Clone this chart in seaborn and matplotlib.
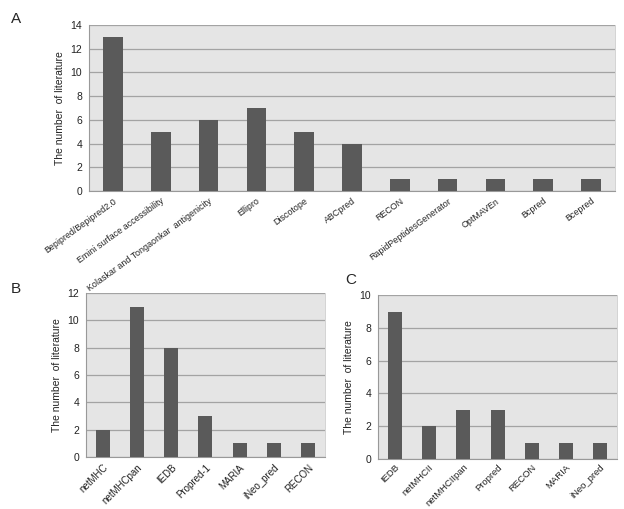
import matplotlib
matplotlib.use("Agg")
import matplotlib.pyplot as plt
import seaborn as sns
import pandas as pd

# panel A - B cell epitope tools
a_tools = ['Bepipred/Bepipred2.0', 'Emini surface accessibility', 'Kolaskar and Tongaonkar  antigenicity',
           'Ellipro', 'Discotope', 'ABCpred', 'RECON', 'RapidPeptidesGenerator', 'OptMAVEn', 'Bcpred', 'Bcepred']
a_counts = [13, 5, 6, 7, 5, 4, 1, 1, 1, 1, 1]

# panel B - MHC I tools
b_tools = ['netMHC', 'netMHCpan', 'IEDB', 'Propred-1', 'MARIA', 'iNeo_pred', 'RECON']
b_counts = [2, 11, 8, 3, 1, 1, 1]

# panel C - MHC II tools
c_tools = ['IEDB', 'netMHCII', 'netMHCIIpan', 'Propred', 'RECON', 'MARIA', 'iNeo_pred']
c_counts = [9, 2, 3, 3, 1, 1, 1]

sns.set_style('white')
plt.rcParams['font.family'] = ['Liberation Sans', 'DejaVu Sans']

bar_col = '#5a5a5a'
bg_col = '#e5e5e5'
grid_col = '#a3a3a3'


def draw_panel(ax, tools, counts, ymax, ystep, rot=45, lab_size=7, lab_pad=4):
    df = pd.DataFrame({'tool': tools, 'n': counts})
    ax.set_facecolor(bg_col)
    sns.barplot(data=df, x='tool', y='n', color=bar_col, width=0.41, saturation=1,
                linewidth=0, edgecolor='none', ax=ax, zorder=3)
    ax.set_xlim(-0.5, len(tools) - 0.5)
    ax.set_ylim(0, ymax)
    ax.set_yticks(range(0, ymax + 1, ystep))
    ax.yaxis.grid(True, color=grid_col, linewidth=0.9, zorder=0)
    ax.set_axisbelow(True)
    ax.set_xlabel('')
    ax.set_ylabel('The number  of literature', fontsize=7.5, color='#222222')
    ax.set_xticks(range(len(tools)))
    ax.set_xticklabels(tools, rotation=rot, ha='right', rotation_mode='anchor', fontsize=lab_size, color='#222222')
    # tick marks sit between categories
    ax.set_xticks([i - 0.5 for i in range(len(tools) + 1)], minor=True)
    ax.tick_params(axis='x', which='major', length=0, pad=lab_pad)
    ax.tick_params(axis='x', which='minor', length=3, color='#999999', width=0.6)
    ax.tick_params(axis='y', length=3, color='#999999', width=0.6, labelsize=7.5, labelcolor='#222222', pad=2)
    for side in ['left', 'bottom']:
        ax.spines[side].set_color('#999999')
        ax.spines[side].set_linewidth(0.8)
    ax.spines['top'].set_visible(False)
    ax.spines['right'].set_color('#cccccc')
    ax.spines['right'].set_linewidth(0.6)


fig = plt.figure(figsize=(6.24, 5.09), dpi=100)
ax_a = fig.add_axes([0.1426, 0.6248, 0.843, 0.326])
ax_b = fig.add_axes([0.1378, 0.1022, 0.383, 0.322])
ax_c = fig.add_axes([0.6058, 0.0982, 0.383, 0.322])
ax_a.set_zorder(5)

draw_panel(ax_a, a_tools, a_counts, 14, 2, rot=36, lab_size=6.4)
draw_panel(ax_b, b_tools, b_counts, 12, 2)
draw_panel(ax_c, c_tools, c_counts, 10, 2, lab_size=6.8, lab_pad=2.5)

fig.text(0.018, 0.955, 'A', fontsize=11)
fig.text(0.018, 0.425, 'B', fontsize=11)
fig.text(0.553, 0.442, 'C', fontsize=11)

fig.savefig('out.png', dpi=100, facecolor='white')
